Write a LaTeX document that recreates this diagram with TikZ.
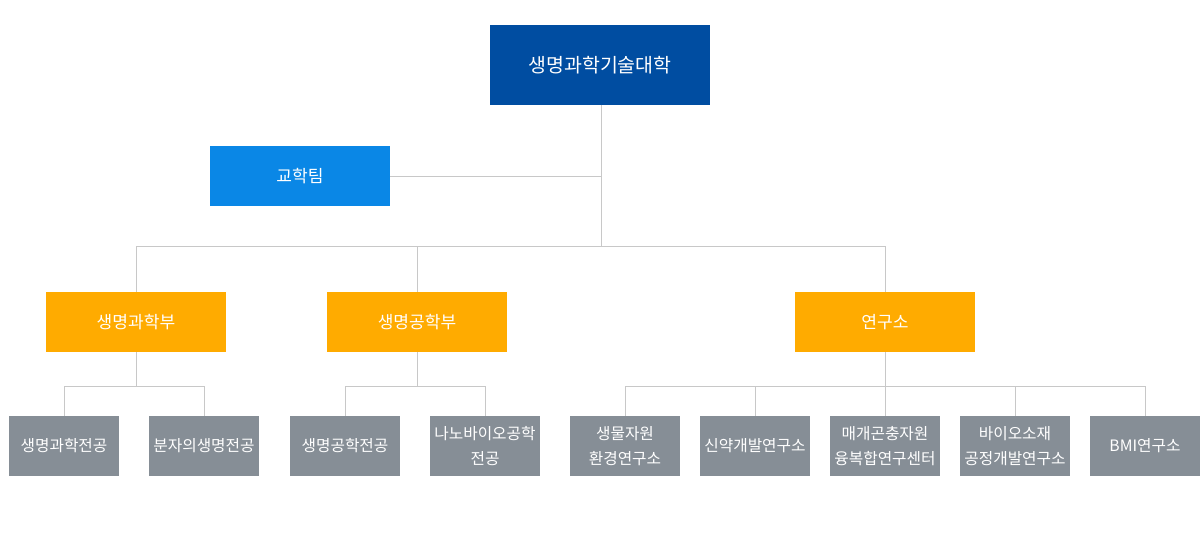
\documentclass[tikz,border=0pt]{standalone}
\usepackage{fontspec}
\newfontfamily\kr{Noto Sans CJK KR}
\definecolor{topblue}{HTML}{004DA1}
\definecolor{teamblue}{HTML}{0A87E6}
\definecolor{orng}{HTML}{FFAB00}
\definecolor{gry}{HTML}{868E96}
\definecolor{lne}{HTML}{C8C8C8}
\begin{document}
\begin{tikzpicture}[x=0.75pt,y=-0.75pt,
  box/.style={draw=none,text=white,align=center,inner sep=0pt,font=\kr},
  topbox/.style={box,fill=topblue,minimum width=165pt,minimum height=60pt,font=\kr\fontsize{14.6}{18}\selectfont},
  teambox/.style={box,fill=teamblue,minimum width=135pt,minimum height=45pt,font=\kr\fontsize{12.8}{15}\selectfont},
  deptbox/.style={box,fill=orng,minimum width=135pt,minimum height=45pt,font=\kr\fontsize{12.8}{15}\selectfont},
  subbox/.style={box,fill=gry,minimum width=82.5pt,minimum height=45pt,font=\kr\fontsize{11.8}{19}\selectfont},
  conn/.style={draw=lne,line width=0.75pt}]
\useasboundingbox (0,0) rectangle (1200,540);
\node[topbox] (top) at (600,65) {생명과학기술대학};
\node[teambox] (team) at (300,176) {교학팀};
\node[deptbox] (d1) at (136,322) {생명과학부};
\node[deptbox] (d2) at (417,322) {생명공학부};
\node[deptbox] (d3) at (885,322) {연구소};
\node[subbox] (s1) at (64,446) {생명과학전공};
\node[subbox] (s2) at (204,446) {분자의생명전공};
\node[subbox] (s3) at (345,446) {생명공학전공};
\node[subbox] (s4) at (485,446) {나노바이오공학\\전공};
\node[subbox] (s5) at (625,446) {생물자원\\환경연구소};
\node[subbox] (s6) at (755,446) {신약개발연구소};
\node[subbox] (s7) at (885,446) {매개곤충자원\\융복합연구센터};
\node[subbox] (s8) at (1015,446) {바이오소재\\공정개발연구소};
\node[subbox] (s9) at (1145,446) {BMI연구소};
\coordinate (j0) at (601,246);
\coordinate (jt) at (601,176);
\draw[conn] (top.south -| j0) -- (j0);
\draw[conn] (team.east) -- (jt);
\draw[conn] (j0) -- (136,246) -- (d1.north);
\draw[conn] (j0) -- (885,246) -- (d3.north);
\draw[conn] (417,246) -- (d2.north);
\foreach \d/\a/\b in {d1/s1/s2, d2/s3/s4, d3/s5/s9}{
  \draw[conn] (\d.south) -- (\d.south |- 0,386);
  \draw[conn] (\a.north) -- (\a.north |- 0,386) -- (\b.north |- 0,386) -- (\b.north);
}
\foreach \s in {s6,s7,s8}{
  \draw[conn] (\s.north) -- (\s.north |- 0,386);
}
\end{tikzpicture}
\end{document}
